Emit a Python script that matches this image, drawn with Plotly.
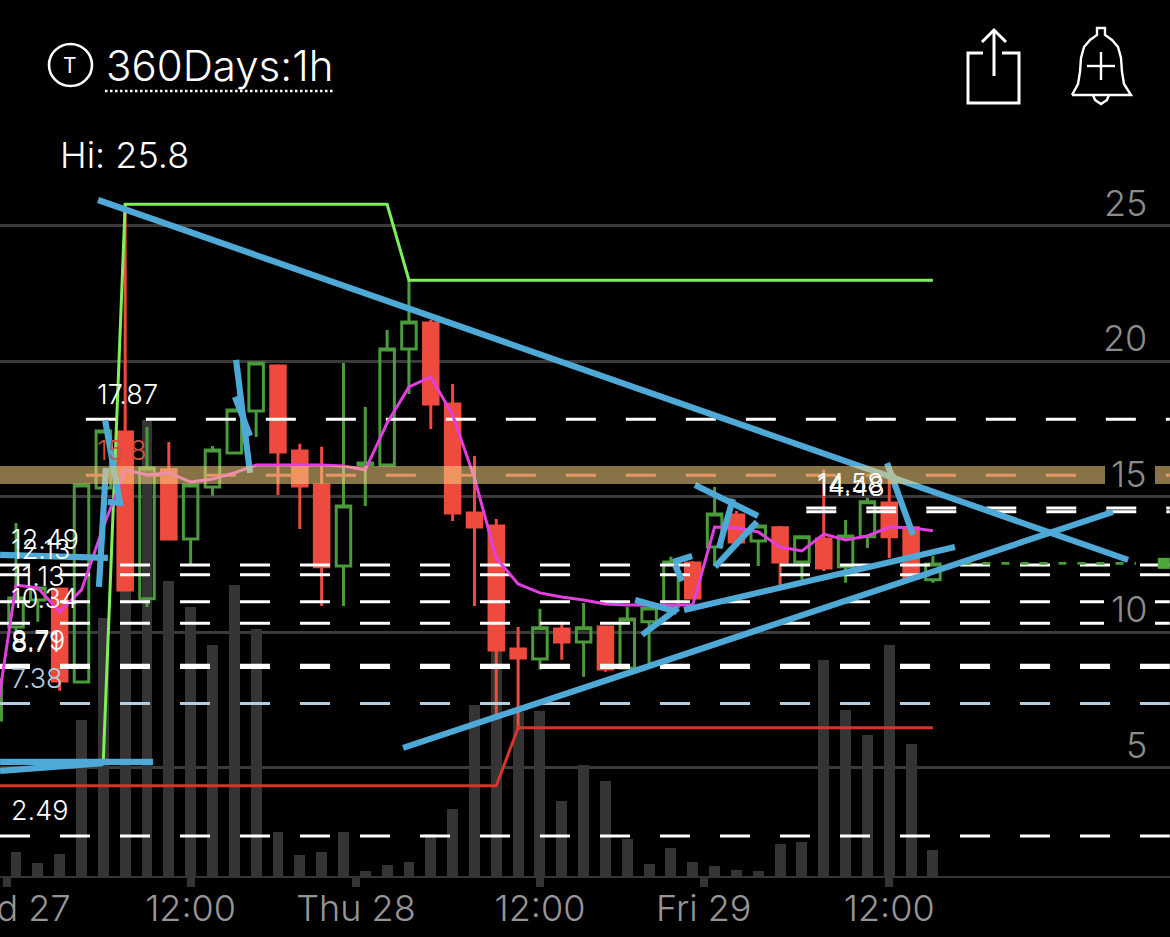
import plotly.graph_objects as go

FONT = "Inter"
W, H = 1170, 937

# candles, hour index from the left edge of the chart
candle_x = list(range(-1, 43))
opens = [6.77, 10.2, 11.2, 11.6, 8.17, 15.33, 17.4, 11.24, 16.0, 13.45, 15.37, 16.62, 18.17, 19.83, 16.7, 15.44,
         12.45, 16.2, 16.18, 20.46, 21.42, 18.43, 14.41, 13.93, 9.39, 9.02, 10.13, 9.65, 10.2, 8.69, 10.39,
         10.94, 12.56, 13.15, 14.33, 13.37, 13.86, 12.6, 13.45, 12.42, 13.53, 14.78, 13.86, 11.94]
highs = [8.25, 14.04, 11.64, 11.6, 15.5, 17.43, 25.8, 17.58, 17.03, 15.44, 16.88, 18.21, 19.94, 19.9, 16.96, 16.85,
         19.94, 18.32, 21.16, 23.0, 21.53, 19.17, 16.51, 14.19, 10.2, 10.87, 10.39, 11.09, 10.2, 10.94, 10.95,
         12.79, 12.64, 15.37, 14.48, 13.93, 13.93, 13.53, 16.0, 14.15, 14.96, 16.0, 13.93, 12.82]
lows = [6.77, 9.98, 10.39, 7.85, 8.17, 15.33, 11.57, 10.94, 13.45, 12.49, 15.04, 16.62, 17.21, 15.07, 13.82, 10.98,
        10.98, 14.67, 16.18, 18.8, 17.51, 14.11, 10.98, 6.96, 6.4, 8.62, 8.99, 8.36, 8.55, 8.69, 8.87,
        10.9, 11.27, 12.45, 13.3, 12.45, 11.72, 11.94, 12.27, 11.83, 13.12, 12.75, 12.01, 11.83]
closes = [8.25, 11.27, 11.64, 8.21, 15.44, 17.43, 11.57, 16.07, 13.45, 15.44, 16.73, 18.21, 19.94, 16.66, 15.4, 12.42,
          14.67, 16.25, 20.46, 21.46, 18.43, 14.41, 13.89, 9.35, 9.06, 10.17, 9.65, 10.17, 8.65, 10.5, 10.9,
          12.6, 11.27, 14.37, 13.34, 13.93, 12.6, 13.53, 12.38, 13.56, 14.82, 13.53, 12.01, 12.53]

volume_x = list(range(0, 43))
volumes = [25, 14, 23, 157, 259, 400, 457, 296, 270, 232, 292, 248, 45, 22, 25, 45, 6, 12, 15, 43, 68, 172,
           230, 165, 166, 76, 112, 96, 38, 13, 29, 15, 11, 7, 6, 33, 35, 217, 167, 142, 232, 133, 27]

avg_line = [6.4, 11.75, 11.64, 10.76, 11.57, 13.89, 16.0, 15.81, 15.89, 15.55, 15.66, 15.89, 16.18, 16.18, 16.18,
            16.18, 16.14, 16.0, 17.73, 19.06, 19.43, 18.03, 15.7, 12.75, 11.79, 11.46, 11.31, 11.2, 11.05, 11.01,
            11.01, 11.01, 11.01, 13.89, 13.86, 13.71, 13.15, 13.01, 13.63, 13.41, 13.56, 13.89, 13.86, 13.75]

high_x = list(range(4, 43))
high_line = [5.3] + [25.8] * 13 + [23.0] * 25
low_x = list(range(-1, 43))
low_line = [4.34] * 24 + [6.48] * 20

# dashed levels: price, label, colour, first index of the line
levels = [17.87, 15.8, 14.59, 14.45, 12.49, 12.13, 11.13, 10.34, 8.79, 8.71, 7.38, 2.49]
level_text = ["17.87", "15.8", "14.58", "14.48", "12.49", "12.13", "11.13", "10.34", "8.79", "8.71", "7.38", "2.49"]
level_color = ["#ffffff", "#d24f40", "#ffffff", "#ffffff", "#ffffff", "#ffffff", "#ffffff", "#ffffff", "#ffffff",
               "#ffffff", "#b5cde0", "#ffffff"]
level_start = [3.2, 3.2, 36.2, 36.2, -0.733, -0.733, -0.733, -0.733, -0.733, -0.733, -0.733, -0.733]

# hand drawn trend lines, index and price
trend_x = [3.76, 50.94, None, 17.73, 50.25, None, 30.6, 43.01, None, 10.08, 10.72, None, 10.03, 10.72, None,
           4.08, 4.76, 4.21, None, 4.12, 3.8, None, -0.73, 4.21, None, -0.73, 6.28, None, -0.73, 3.99, None,
           28.36, 30.28, None, 28.68, 30.33, None, 30.1, 30.97, None, 30.19, 30.51, None,
           31.1, 33.99, None, 32.84, 32.2, None, 33.94, 32.02, None, 39.9, 41.09]
trend_y = [25.96, 12.68, None, 5.74, 14.45, None, 10.83, 13.15, None, 20.06, 15.89, None, 18.69, 17.25, None,
           17.84, 14.78, 14.82, None, 16.07, 11.68, None, 12.86, 12.75, None, 5.22, 5.22, None, 4.89, 5.18, None,
           11.2, 10.76, None, 9.91, 10.9, None, 12.6, 12.82, None, 12.49, 11.9, None,
           15.44, 14.3, None, 14.93, 13.12, None, 14.08, 12.42, None, 16.25, 13.6]

band_low, band_high = 15.48, 16.14
last_price = 12.55

price_ticks = [5, 10, 15, 20, 25]
time_ticks = [-0.43, 8, 15.57, 24, 31.5, 40]
time_labels = ["Wed 27", "12:00", "Thu 28", "12:00", "Fri 29", "12:00"]


def px(x):
    return x / W


def py(y):
    return 1 - y / H


def path(*pts):
    return "M " + " L ".join(f"{px(a):.5f} {py(b):.5f}" for a, b in pts)


fig = go.Figure()

fig.add_trace(go.Bar(x=volume_x, y=volumes, width=0.5, marker_color="#343434", marker_line_width=0, yaxis="y"))

fig.add_trace(go.Candlestick(
    x=candle_x, open=opens, high=highs, low=lows, close=closes, yaxis="y2", whiskerwidth=0,
    increasing=dict(line=dict(color="#4b9a3c", width=3), fillcolor="rgba(0,0,0,0)"),
    decreasing=dict(line=dict(color="#ee4b3e", width=3), fillcolor="#ee4b3e"),
))

fig.add_trace(go.Scatter(x=high_x, y=high_line, mode="lines", yaxis="y2", line=dict(color="#7ff05a", width=3)))
fig.add_trace(go.Scatter(x=low_x, y=low_line, mode="lines", yaxis="y2", line=dict(color="#d8352a", width=3)))

for lvl, col, start in zip(levels, level_color, level_start):
    fig.add_trace(go.Scatter(x=[start, 52.85], y=[lvl, lvl], mode="lines", yaxis="y2",
                             line=dict(color=col, width=3, dash="30px,30px")))

fig.add_trace(go.Scatter(x=[43.4, 51.3], y=[last_price, last_price], mode="lines", yaxis="y2",
                         line=dict(color="#4b9a3c", width=2.6, dash="8px,11px")))
fig.add_trace(go.Scatter(x=[52.3, 52.85], y=[last_price, last_price], mode="lines", yaxis="y2",
                         line=dict(color="#4ca83a", width=11)))

fig.add_trace(go.Scatter(x=candle_x, y=avg_line, mode="lines", yaxis="y2", line=dict(color="#e23ee0", width=3)))
fig.add_trace(go.Scatter(x=trend_x, y=trend_y, mode="lines", yaxis="y2", line=dict(color="#4ea9d6", width=6.2)))

annotations = []
for lvl, txt, col, start in zip(levels, level_text, level_color, level_start):
    annotations.append(dict(x=start, y=lvl, xref="x", yref="y2", text=txt, showarrow=False, xanchor="left",
                            yanchor="middle", xshift=9, yshift=25, font=dict(family=FONT, size=27, color=col, weight=300)))
for p in price_ticks:
    annotations.append(dict(x=px(1149), y=p, xref="paper", yref="y2", text=str(p), showarrow=False, xanchor="right",
                            yanchor="middle", yshift=23,
                            font=dict(family=FONT, size=36, color="#8c8c8c", weight=300)))
annotations += [
    dict(x=px(104), y=py(65), xref="paper", yref="paper", text="360Days:1h", showarrow=False, xanchor="left",
         yanchor="middle", font=dict(family=FONT, size=42, color="#ffffff", weight=300)),
    dict(x=px(58), y=py(155), xref="paper", yref="paper", text="Hi: 25.8", showarrow=False, xanchor="left",
         yanchor="middle", font=dict(family=FONT, size=36, color="#ffffff", weight=300)),
    dict(x=px(70), y=py(65), xref="paper", yref="paper", text="T", showarrow=False, xanchor="center",
         yanchor="middle", font=dict(family=FONT, size=21, color="#ffffff")),
]

white = dict(color="#ffffff", width=3)
thin = dict(color="#ffffff", width=2.4)
shapes = [
    dict(type="rect", xref="paper", yref="y2", x0=0, x1=1, y0=band_low, y1=band_high, layer="above",
         fillcolor="rgba(245,209,127,0.55)", line_width=0),
    # the axis labels interrupt the band and the dashes
    dict(type="rect", xref="paper", yref="paper", x0=px(1105), x1=px(1155), y0=py(490), y1=py(455), layer="above",
         fillcolor="#000000", line_width=0),
    dict(type="rect", xref="paper", yref="paper", x0=px(1104), x1=px(1155), y0=py(630), y1=py(590), layer="above",
         fillcolor="#000000", line_width=0),
    dict(type="circle", xref="paper", yref="paper", x0=px(49), x1=px(92), y0=py(44), y1=py(86),
         line=dict(color="#ffffff", width=2.6)),
    dict(type="line", xref="paper", yref="paper", x0=px(105), x1=px(334), y0=py(91), y1=py(91),
         line=dict(color="#ffffff", width=2.5, dash="2.5px,2.5px")),
    # share icon
    dict(type="path", xref="paper", yref="paper",
         path=path((983, 53), (968, 53), (968, 103), (1019, 103), (1019, 53), (1002, 53)), line=white),
    dict(type="path", xref="paper", yref="paper", path=path((994, 76), (994, 30)), line=white),
    dict(type="path", xref="paper", yref="paper", path=path((982, 42), (994, 30), (1006, 42)), line=white),
    # bell icon
    dict(type="path", xref="paper", yref="paper", line=thin,
         path=path((1072, 95), (1078, 84), (1080, 72), (1081, 58), (1084, 47), (1090, 40), (1097, 35), (1097, 28),
                   (1105, 28), (1105, 35), (1112, 40), (1118, 47), (1121, 58), (1122, 72), (1124, 84), (1131, 95),
                   (1072, 95))),
    dict(type="path", xref="paper", yref="paper", line=thin,
         path=path((1093, 95), (1095, 100), (1101, 104), (1107, 100), (1109, 95))),
    dict(type="path", xref="paper", yref="paper", path=path((1087, 66), (1115, 66)), line=thin),
    dict(type="path", xref="paper", yref="paper", path=path((1101, 52), (1101, 80)), line=thin),
]

fig.update_layout(
    width=W, height=H, margin=dict(l=0, r=0, t=0, b=0, autoexpand=False), paper_bgcolor="#000000",
    plot_bgcolor="#000000", showlegend=False, annotations=annotations, shapes=shapes, bargap=0,
    boxgap=0.05, boxgroupgap=0.3,
    xaxis=dict(range=[-0.733, 52.86], rangeslider=dict(visible=False), showgrid=False, zeroline=False,
               anchor="free", position=py(877), showline=True, linecolor="#343434", linewidth=2, automargin=False,
               tickmode="array", tickvals=time_ticks, ticktext=time_labels, ticks="outside", ticklen=9, tickwidth=8,
               tickcolor="#343434", ticklabeloverflow="allow", ticklabelstandoff=-9,
               tickfont=dict(family=FONT, size=36, color="#969696", weight=300)),
    yaxis=dict(range=[-60, 877], visible=False, fixedrange=True, automargin=False),
    yaxis2=dict(range=[-1.24, 33.34], overlaying="y", showticklabels=False, zeroline=False, showline=False,
                automargin=False, tickmode="array", tickvals=price_ticks, showgrid=True, gridcolor="#3a3a3a",
                gridwidth=2.5),
)

fig.write_html("out.html", config=dict(displayModeBar=False), post_script="document.body.style.margin='0';")
